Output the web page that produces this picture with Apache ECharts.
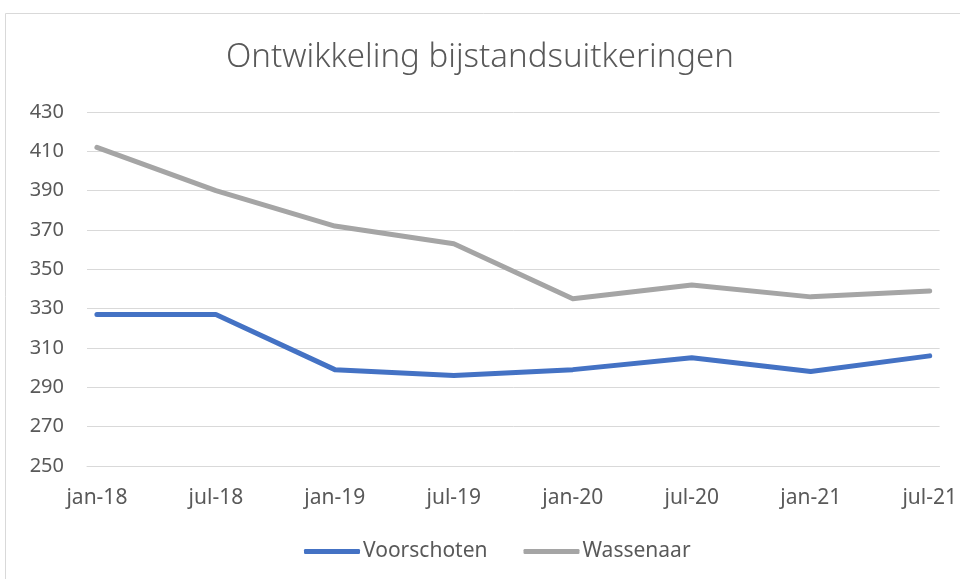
<!DOCTYPE html>
<html>
<head>
<meta charset="utf-8">
<title>Ontwikkeling bijstandsuitkeringen</title>
<script src="https://cdn.jsdelivr.net/npm/echarts@6/dist/echarts.min.js"></script>
<style>
  html, body { margin: 0; padding: 0; background: #fff; }
  #chart { width: 960px; height: 579px; }
</style>
</head>
<body>
<div id="chart"></div>
<script>
// half-year points, one tick every 6 months
const periods = ["jan-18", "jul-18", "jan-19", "jul-19", "jan-20", "jul-20", "jan-21", "jul-21"]
const voorschoten = [327, 327, 299, 296, 299, 305, 298, 306]
const wassenaar = [412, 390, 372, 363, 335, 342, 336, 339]
const yTicks = { min: 250, max: 430, step: 20 }

// Excel date axis is monthly: spread the half-year values over month slots
const monthsPerStep = 6
const toMonthly = (arr, fill) => {
  let out = []
  arr.forEach((v, i) => {
    out.push(v)
    if (i < arr.length - 1) for (let k = 1; k < monthsPerStep; k++) out.push(fill)
  })
  return out
}
const months = toMonthly(periods, "")

const chart = echarts.init(document.getElementById("chart"))
const textColor = "#595959"
const font = "'Noto Sans', sans-serif"

const option = {
  animation: false,
  graphic: [
    {
      type: "rect",
      shape: { x: 5.5, y: 13.5, width: 970, height: 580 },
      style: { fill: "none", stroke: "#d9d9d9", lineWidth: 1 },
      silent: true,
    },
  ],
  title: {
    text: "Ontwikkeling bijstandsuitkeringen",
    left: "center",
    top: 41,
    padding: 0,
    textStyle: { color: textColor, fontSize: 33, fontWeight: 300, fontFamily: font },
  },
  grid: { left: 87, right: 20, top: 112, bottom: 113 },
  xAxis: {
    type: "category",
    data: months,
    boundaryGap: true,
    axisLine: { lineStyle: { color: "#d9d9d9", width: 1 } },
    axisTick: { interval: monthsPerStep - 1, length: 7, lineStyle: { color: "#cfcfcf" } },
    axisLabel: {
      interval: monthsPerStep - 1,
      color: textColor,
      fontSize: 21,
      fontFamily: font,
      margin: 22,
    },
  },
  yAxis: {
    type: "value",
    min: yTicks.min,
    max: yTicks.max,
    interval: yTicks.step,
    axisLine: { show: false },
    axisTick: { show: false },
    splitLine: { lineStyle: { color: "#d9d9d9", width: 1 } },
    axisLabel: { color: textColor, fontSize: 20, fontFamily: font, margin: 23 },
  },
  legend: {
    bottom: 12,
    left: 299,
    itemWidth: 56,
    itemHeight: 5,
    itemGap: 36,
    icon: "roundRect",
    textStyle: { color: textColor, fontSize: 21, fontFamily: font, padding: [0, 0, 0, -2] },
    data: ["Voorschoten", "Wassenaar"],
  },
  series: [
    {
      name: "Voorschoten",
      type: "line",
      data: toMonthly(voorschoten, "-"),
      connectNulls: true,
      showSymbol: false,
      symbol: "none",
      lineStyle: { color: "#4472C4", width: 5, cap: "round", join: "round" },
      itemStyle: { color: "#4472C4" },
    },
    {
      name: "Wassenaar",
      type: "line",
      data: toMonthly(wassenaar, "-"),
      connectNulls: true,
      showSymbol: false,
      symbol: "none",
      lineStyle: { color: "#A5A5A5", width: 5, cap: "round", join: "round" },
      itemStyle: { color: "#A5A5A5" },
    },
  ],
}

option && chart.setOption(option)
</script>
</body>
</html>
